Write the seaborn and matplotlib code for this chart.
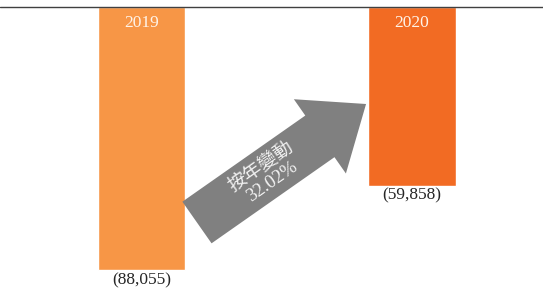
import numpy as np
import pandas as pd
import matplotlib
matplotlib.use('Agg')
import matplotlib.pyplot as plt
import seaborn as sns

# data
years = ['2019', '2020']
values = [88055, 59858]
labels = ['(88,055)', '(59,858)']
colors = ['#F79646', '#F26B23']
change_text = '按年變動\n32.02%'

sns.set_style('white')
plt.rcParams['font.family'] = ['Liberation Serif', 'Noto Sans CJK TC']

df = pd.DataFrame({'year': years, 'value': values})

fig = plt.figure(figsize=(5.43, 2.93), dpi=100)
ax = fig.add_axes([0, 0, 1, 1])
sns.barplot(data=df, x='year', y='value', hue='year', palette=colors,
            width=0.323, legend=False, ax=ax, saturation=1)

ax.set_xlim(-0.523, 1.484)
ax.set_ylim(95750, -2343)
ax.axhline(0, color='#404040', lw=1)
for s in ax.spines.values():
    s.set_visible(False)
ax.set_xticks([])
ax.set_yticks([])
ax.set_xlabel('')
ax.set_ylabel('')

for i, (y, v, lab) in enumerate(zip(years, values, labels)):
    ax.annotate(y, (i, 0), xytext=(0, -5.5), textcoords='offset points',
                ha='center', va='top', color='#FFF3E8', fontsize=12.5)
    ax.annotate(lab, (i, v), xytext=(0, -1.5), textcoords='offset points',
                ha='center', va='top', color='#262626', fontsize=12.5)

# change arrow
ax.annotate('', xy=(0.830, 32475), xytext=(0.205, 72150),
            arrowprops=dict(arrowstyle='simple,head_length=40.6,head_width=65.3,tail_width=36.6',
                            mutation_scale=1, color='#808080', lw=0,
                            shrinkA=0, shrinkB=0))
ax.text(0.462, 56000, change_text, rotation=35, rotation_mode='anchor',
        ha='center', va='center', color='#F2F2F2', fontsize=13.5,
        linespacing=1.05)

fig.savefig('out.png', dpi=100)
